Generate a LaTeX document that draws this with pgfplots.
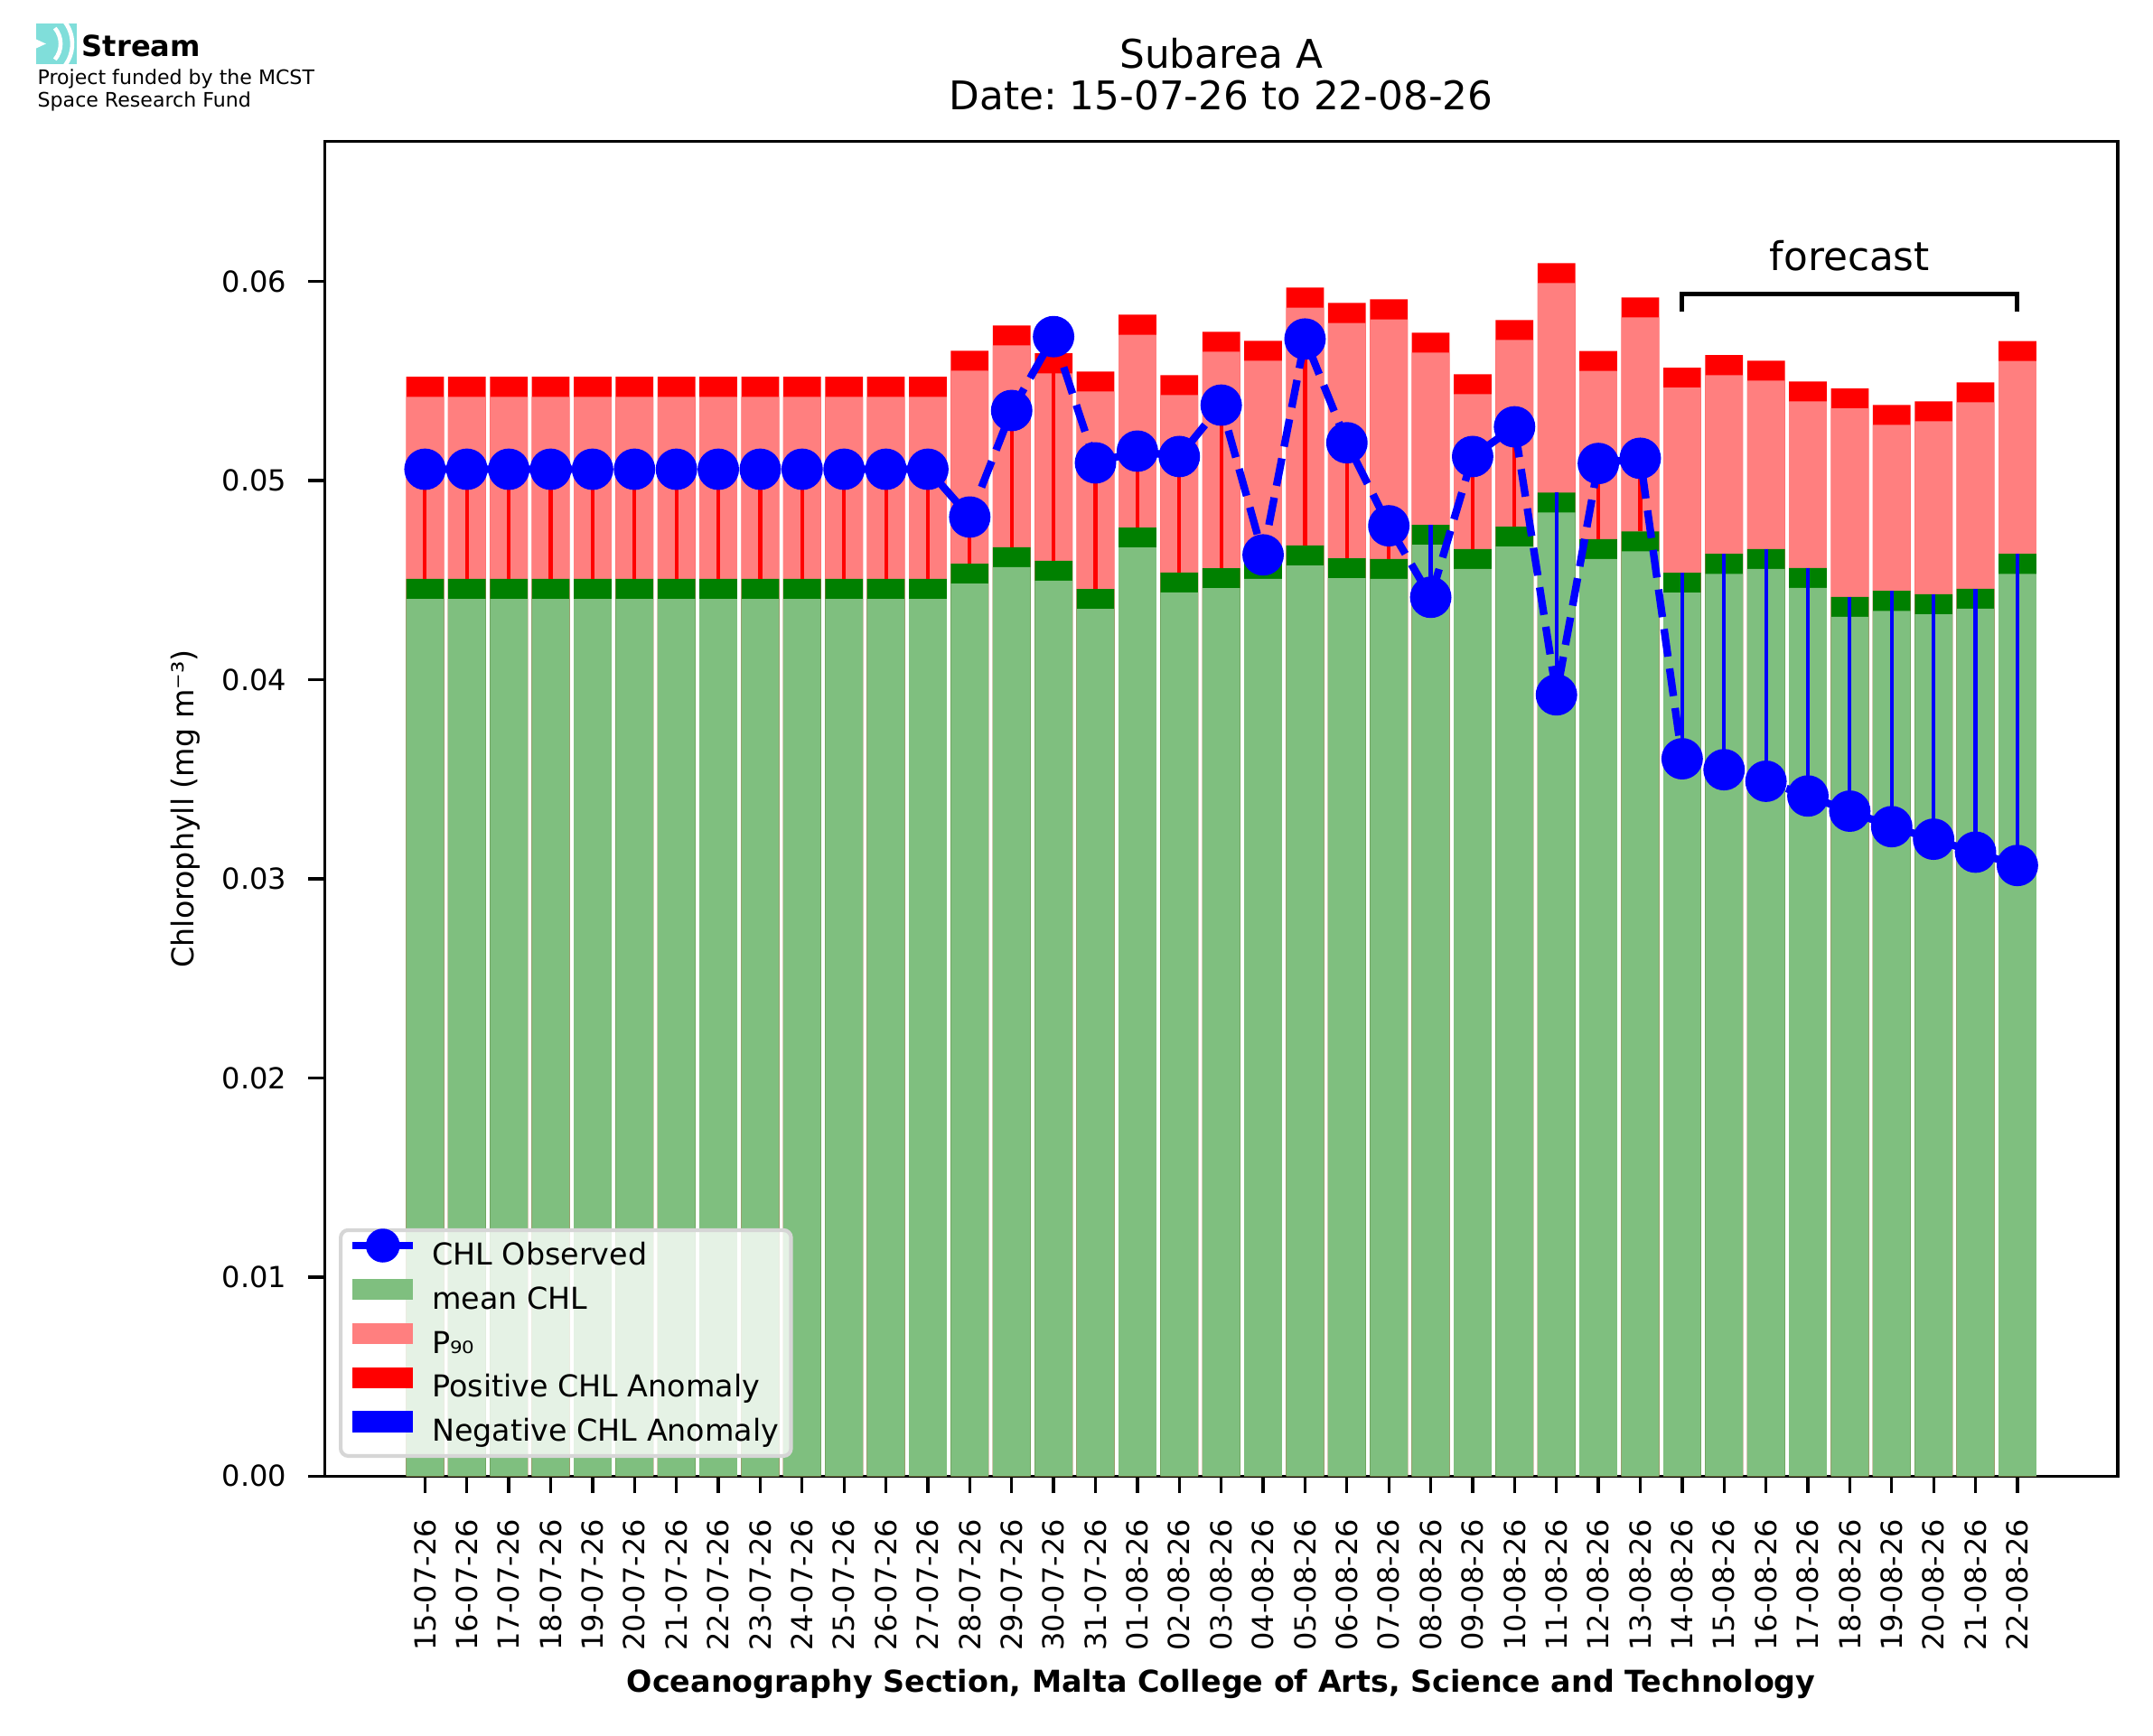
\documentclass[border=0pt]{standalone}
\usepackage{fontspec}
\setmainfont{DejaVu Sans}
\usepackage{pgfplots}
\pgfplotsset{compat=1.18}
\usepackage{pgfplotstable}
\definecolor{lgreen}{RGB}{127,191,127}
\definecolor{dgreen}{RGB}{0,128,0}
\definecolor{pinkc}{RGB}{255,127,127}
\definecolor{tealc}{RGB}{128,222,218}
\newcommand\sz[1]{\fontsize{#1}{#1}\selectfont}
\frenchspacing

% i: day index, g: mean CHL (top of dark green band), p: P90 top (top of red band), o: observed CHL
\pgfplotstableread{
i g p o
0 0.04506 0.05521 0.05057
1 0.04506 0.05521 0.05057
2 0.04506 0.05521 0.05057
3 0.04506 0.05521 0.05057
4 0.04506 0.05521 0.05057
5 0.04506 0.05521 0.05057
6 0.04506 0.05521 0.05057
7 0.04506 0.05521 0.05057
8 0.04506 0.05521 0.05057
9 0.04506 0.05521 0.05057
10 0.04506 0.05521 0.05057
11 0.04506 0.05521 0.05057
12 0.04506 0.05521 0.05057
13 0.04583 0.05652 0.04817
14 0.04665 0.05779 0.05352
15 0.04597 0.05639 0.05723
16 0.04456 0.05548 0.05089
17 0.04764 0.05833 0.05148
18 0.04538 0.05530 0.05121
19 0.04560 0.05747 0.05379
20 0.04606 0.05702 0.04627
21 0.04674 0.05969 0.05711
22 0.04610 0.05892 0.05190
23 0.04606 0.05910 0.04773
24 0.04778 0.05743 0.04414
25 0.04656 0.05534 0.05121
26 0.04769 0.05806 0.05270
27 0.04940 0.06092 0.03924
28 0.04706 0.05651 0.05086
29 0.04745 0.05920 0.05112
30 0.04537 0.05567 0.03603
31 0.04632 0.05630 0.03548
32 0.04656 0.05602 0.03490
33 0.04561 0.05498 0.03416
34 0.04416 0.05463 0.03340
35 0.04446 0.05380 0.03262
36 0.04429 0.05398 0.03199
37 0.04457 0.05493 0.03134
38 0.04632 0.05701 0.03067
}\chl

\begin{document}
\begin{tikzpicture}
\useasboundingbox (0pt,0pt) rectangle (571.92pt,461.04pt);

% logo
\begin{scope}
\clip (9.6pt,444.0pt) rectangle (20.4pt,454.8pt);
\fill[tealc] (9.6pt,444.0pt) rectangle (20.4pt,454.8pt);
\draw[white, line width=1.1pt] (9.6pt,449.4pt) ++(-40:6.5pt) arc (-40:40:6.5pt);
\draw[white, line width=1.1pt] (9.6pt,449.4pt) ++(-50:9.6pt) arc (-50:50:9.6pt);
\fill[white] (9.6pt,450.6pt) -- (12.2pt,449.4pt) -- (9.6pt,448.2pt) -- cycle;
\end{scope}
\node[anchor=base west, inner sep=0pt] at (21.6pt,446.1pt) {\sz{7.7}\bfseries Stream};
\node[anchor=base west, inner sep=0pt] at (9.8pt,438.7pt) {\sz{5.3}Project funded by the MCST};
\node[anchor=base west, inner sep=0pt] at (9.8pt,432.7pt) {\sz{5.3}Space Research Fund};

% title
\node[anchor=base, inner sep=0pt] at (324.4pt,443.0pt) {\sz{10.5}Subarea A};
\node[anchor=base, inner sep=0pt] at (324.4pt,431.8pt) {\sz{10.5}Date: 15-07-26 to 22-08-26};

\begin{axis}[
  at={(86.23pt,68.81pt)}, anchor=south west,
  width=476.33pt, height=354.62pt, scale only axis,
  xmin=-2.395, xmax=40.395, ymin=0, ymax=0.06703,
  axis line style={line width=0.8pt},
  tick align=outside, major tick length=4.4pt,
  every tick/.style={black, line width=0.8pt},
  xtick pos=bottom, ytick pos=left,
  xtick={0,...,38},
  xticklabels={15-07-26,16-07-26,17-07-26,18-07-26,19-07-26,20-07-26,21-07-26,22-07-26,23-07-26,24-07-26,25-07-26,26-07-26,27-07-26,28-07-26,29-07-26,30-07-26,31-07-26,01-08-26,02-08-26,03-08-26,04-08-26,05-08-26,06-08-26,07-08-26,08-08-26,09-08-26,10-08-26,11-08-26,12-08-26,13-08-26,14-08-26,15-08-26,16-08-26,17-08-26,18-08-26,19-08-26,20-08-26,21-08-26,22-08-26},
  xticklabel style={rotate=90, anchor=east, font=\sz{7.7}},
  xticklabel shift=3.5pt,
  ytick={0,0.01,0.02,0.03,0.04,0.05,0.06},
  yticklabels={0.00,0.01,0.02,0.03,0.04,0.05,0.06},
  yticklabel style={font=\sz{7.7}},
  yticklabel shift=2.2pt,
  scaled y ticks=false,
  xlabel={\bfseries Oceanography Section, Malta College of Arts, Science and Technology},
  xlabel style={at={(axis description cs:0.5,-0.1616)}, anchor=base, font=\sz{8}},
  ylabel={Chlorophyll (mg m⁻³)},
  ylabel style={at={(axis description cs:-0.0777,0.5)}, anchor=center, font=\sz{8}},
  legend cell align=left,
  legend style={at={(0,0)}, anchor=south west, xshift=3.77pt, yshift=4.87pt,
    draw=black!16, line width=1pt, rounded corners=2pt, fill=white, fill opacity=0.8,
    draw opacity=1, text opacity=1, font=\sz{8},
    inner xsep=3.2pt, inner ysep=2.2pt, row sep=2.0pt,
    nodes={inner sep=0pt, text height=5.9pt, text depth=1.7pt},
    /tikz/every odd column/.append style={column sep=5.1pt}},
]
% red band (top of P90)
\addplot[ybar, bar width=0.9, bar shift=0pt, fill=red, draw=none, forget plot] table[x=i, y=p] {\chl};
% P90
\addplot[ybar, bar width=0.9, bar shift=0pt, fill=pinkc, draw=none, forget plot] table[x=i, y expr=\thisrow{p}-0.001] {\chl};
% mean band
\addplot[ybar, bar width=0.9, bar shift=0pt, fill=dgreen, draw=none, forget plot] table[x=i, y=g] {\chl};
% mean CHL
\addplot[ybar, bar width=0.9, bar shift=0pt, fill=lgreen, draw=none, forget plot] table[x=i, y expr=\thisrow{g}-0.001] {\chl};
% anomaly lines
\addplot[red, line width=1pt, forget plot, quiver={u=0, v={max(\thisrow{o}-\thisrow{g},0)}}] table[x=i, y=g] {\chl};
\addplot[blue, line width=1pt, forget plot, quiver={u=0, v={min(\thisrow{o}-\thisrow{g},0)}}] table[x=i, y=g] {\chl};
% observed
\addplot[blue, line width=2pt, dash pattern=on 7.4pt off 3.2pt, mark=*, mark size=4.5pt,
  mark options={solid, draw=none, fill=blue}, forget plot] table[x=i, y=o] {\chl};

% forecast bracket
\draw[black, line width=1.2pt] (axis cs:30,0.05851) -- (axis cs:30,0.05938) -- (axis cs:38,0.05938) -- (axis cs:38,0.05851);
\node[anchor=base, inner sep=0pt, font=\sz{10.5}] at (axis cs:34,0.06056) {forecast};

\addlegendimage{legend image code/.code={\path[draw=none, fill=none] (0pt,0pt) rectangle (16pt,5pt);
  \draw[overlay, blue, line width=2pt, draw opacity=1, rounded corners=0pt] (0pt,3.1pt) -- (16pt,3.1pt);
  \fill[overlay, blue, fill opacity=1, draw=none] (8pt,3.1pt) circle (4.5pt);}}
\addlegendentry{CHL Observed}
\addlegendimage{legend image code/.code={\fill[lgreen, fill opacity=1, draw=none, rounded corners=0pt] (0pt,0.3pt) rectangle (16pt,5.9pt);}}
\addlegendentry{mean CHL}
\addlegendimage{legend image code/.code={\fill[pinkc, fill opacity=1, draw=none, rounded corners=0pt] (0pt,0.3pt) rectangle (16pt,5.9pt);}}
\addlegendentry{P₉₀}
\addlegendimage{legend image code/.code={\fill[red, fill opacity=1, draw=none, rounded corners=0pt] (0pt,0.3pt) rectangle (16pt,5.9pt);}}
\addlegendentry{Positive CHL Anomaly}
\addlegendimage{legend image code/.code={\fill[blue, fill opacity=1, draw=none, rounded corners=0pt] (0pt,0.3pt) rectangle (16pt,5.9pt);}}
\addlegendentry{Negative CHL Anomaly}
\end{axis}
\end{tikzpicture}
\end{document}
